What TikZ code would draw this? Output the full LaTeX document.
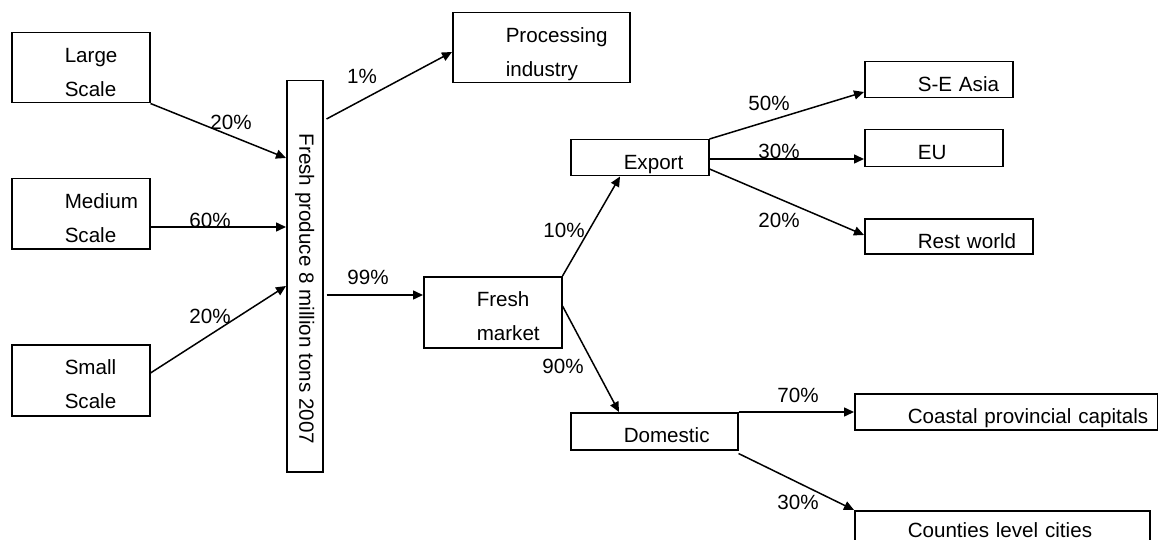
\documentclass[tikz,border=0pt]{standalone}
\usepackage{fontspec}
\setmainfont{Liberation Sans}
\usetikzlibrary{arrows.meta,calc}
\newcommand\boxind{\hspace*{53pt}}
\begin{document}
\begin{tikzpicture}[x=1pt,y=-1pt,
  font=\fontsize{20.6}{34}\selectfont,
  box/.style={draw, line width=1.5pt, inner xsep=0pt, inner ysep=0pt, anchor=north west, align=left, text height=29.5pt},
  flow/.style={line width=1.5pt, -{Triangle[length=10pt,width=9pt]}},
  pct/.style={inner sep=0pt}]
\useasboundingbox (0,0) rectangle (1158,540);
% boxes
\node[box, text width=138pt, text depth=40.5pt] (large) at (11,32) {\boxind Large\\\boxind Scale};
\node[box, text width=138pt, text depth=40.5pt] (medium) at (11,178) {\boxind Medium\\\boxind Scale};
\node[box, text width=138pt, text depth=41.5pt] (small) at (11,344) {\boxind Small\\\boxind Scale};
\node[draw, line width=1.5pt, inner sep=0pt, minimum width=36pt, minimum height=391pt, anchor=north west] (fp) at (286,80)
  {\rotatebox{-90}{\makebox[391pt][l]{\boxind Fresh produce 8 million tons 2007}}};
\node[box, text width=177pt, text depth=40.5pt] (proc) at (452,12) {\boxind Processing\\\boxind industry};
\node[box, text width=138pt, text depth=41.5pt] (fm) at (423,276) {\boxind Fresh\\\boxind market};
\node[box, text width=138pt, text depth=6.5pt] (export) at (570,139) {\boxind Export};
\node[box, text width=167pt, text depth=7.5pt] (dom) at (570,412) {\boxind Domestic};
\node[box, text width=148pt, text depth=6.5pt] (sea) at (864,61) {\boxind S-E Asia};
\node[box, text width=138pt, text depth=7.5pt] (eu) at (864,129) {\boxind EU};
\node[box, text width=168pt, text depth=5.5pt] (rest) at (864,218) {\boxind Rest world};
\node[box, text width=303pt, text depth=6.5pt] (coast) at (854,393) {\boxind Coastal provincial capitals};
\node[box, text width=295pt, text height=27pt, text depth=10pt] (county) at (854,510) {\boxind Counties level cities};
% connectors
\draw[flow] (large.south east) -- ($(fp.north west)+(0,78)$);
\draw[flow] ($(medium.north east)+(0,49)$) -- ($(fp.north west)+(0,147)$);
\draw[flow] ($(small.north east)+(0,29)$) -- ($(fp.north west)+(0,206)$);
\draw[flow] ($(fp.north east)+(3,39)$) -- ($(proc.north west)+(0,40)$);
\draw[flow] ($(fp.north east)+(3,215)$) -- ($(fm.north west)+(0,19)$);
\draw[flow] (fm.north east) -- ($(export.south west)+(50,0)$);
\draw[flow] ($(fm.north east)+(0,30)$) -- ($(dom.north west)+(49,0)$);
\draw[flow] (export.north east) -- ($(sea.north west)+(0,31)$);
\draw[flow] ($(export.north east)+(0,20)$) -- ($(eu.north west)+(0,30)$);
\draw[flow] ($(export.north east)+(0,30)$) -- ($(rest.north west)+(0,17)$);
\draw[flow] (dom.north east) -- ($(coast.north west)+(0,19)$);
\draw[flow] ($(dom.south east)+(0,3)$) -- (county.north west);
% labels
\node[pct] (p1) at (231,122) {20\%};
\node[pct] (p2) at (210,220) {60\%};
\node[pct] (p3) at (210,316) {20\%};
\node[pct] (p4) at (362,76) {1\%};
\node[pct] (p5) at (368,277) {99\%};
\node[pct] (p6) at (564,230) {10\%};
\node[pct] (p7) at (563,366) {90\%};
\node[pct] (p8) at (769,103) {50\%};
\node[pct] (p9) at (779,151) {30\%};
\node[pct] (p10) at (779,220) {20\%};
\node[pct] (p11) at (798,395) {70\%};
\node[pct] (p12) at (798,502) {30\%};
\end{tikzpicture}
\end{document}
